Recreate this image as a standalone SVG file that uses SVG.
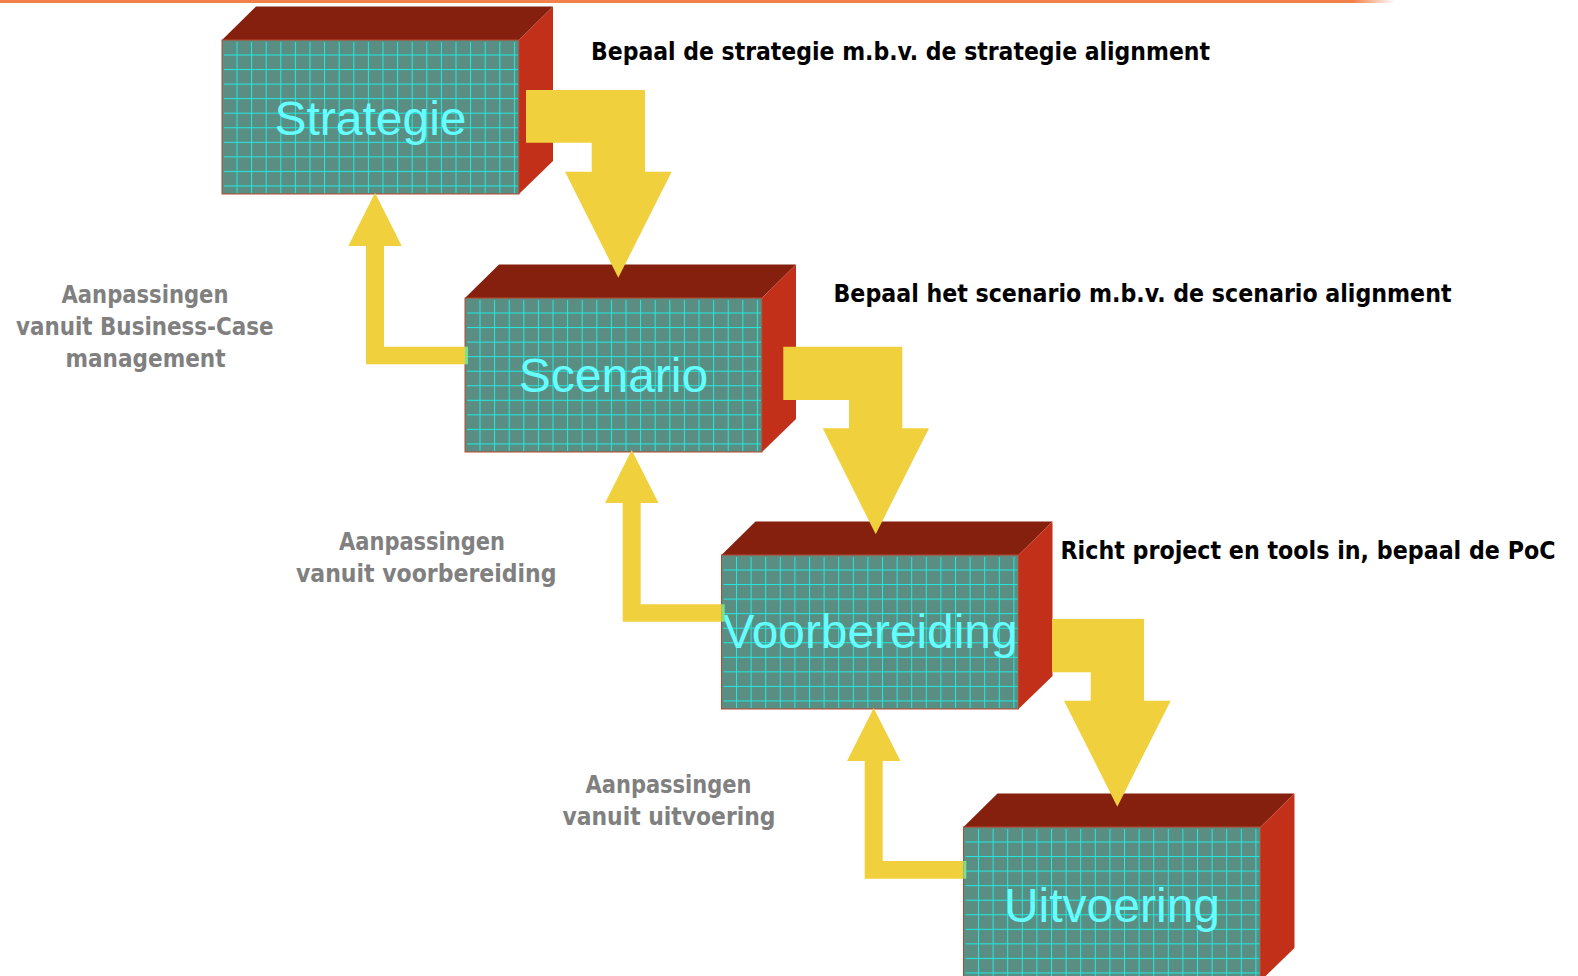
<svg xmlns="http://www.w3.org/2000/svg" width="1578" height="976" viewBox="0 0 1578 976">
<style>
.top{fill:#85200F}
.side{fill:#C2301A}
.front{fill:#5A8E83;stroke:#B8472E;stroke-width:1}
.grid{fill:url(#grid)}
.lbl{font-family:"Liberation Sans",Arial,sans-serif;font-size:48px;fill:#66FFFF;text-anchor:middle}
.note{font-family:"DejaVu Sans Condensed","DejaVu Sans",sans-serif;font-weight:bold;font-size:24px;fill:#000}
.gray{font-family:"DejaVu Sans Condensed","DejaVu Sans",sans-serif;font-weight:bold;font-size:24px;fill:#808080}
.arrow{fill:#F0D03C}
.pin{fill:#7EE08A}
</style>
<defs>
<linearGradient id="bar" x1="0" y1="0" x2="1" y2="0">
<stop offset="0" stop-color="#F2804A"/>
<stop offset="0.97" stop-color="#F2804A"/>
<stop offset="1" stop-color="#F2804A" stop-opacity="0"/>
</linearGradient>
<pattern id="grid" patternUnits="userSpaceOnUse" x="14.5" y="14.5" width="14.6" height="14.55">
<rect x="0" y="0" width="1" height="14.55" fill="#22E8E0"/>
<rect x="0" y="0" width="14.6" height="1" fill="#22E8E0"/>
</pattern>
</defs>
<rect x="0" y="0" width="1395" height="3" fill="url(#bar)"/>

<g id="node-strategie" transform="translate(222,40)">
<polygon class="top" points="0,0 34,-33.5 331,-33.5 297,0"/>
<polygon class="side" points="297,0 331,-33.5 331,121 297,154"/>
<rect class="front" x="0" y="0" width="297" height="154"/>
<rect class="grid" x="2" y="2" width="294" height="151"/>
<text class="lbl" x="148.5" y="95">Strategie</text>
</g>

<g id="node-scenario" transform="translate(465,298)">
<polygon class="top" points="0,0 34,-33.5 331,-33.5 297,0"/>
<polygon class="side" points="297,0 331,-33.5 331,121 297,154"/>
<rect class="front" x="0" y="0" width="297" height="154"/>
<rect class="grid" x="2" y="2" width="294" height="151"/>
<text class="lbl" x="148.5" y="94">Scenario</text>
</g>

<g id="node-voorbereiding" transform="translate(721.5,555)">
<polygon class="top" points="0,0 34,-33.5 331,-33.5 297,0"/>
<polygon class="side" points="297,0 331,-33.5 331,121 297,154"/>
<rect class="front" x="0" y="0" width="297" height="154"/>
<rect class="grid" x="2" y="2" width="294" height="151"/>
<text class="lbl" x="148.5" y="93" textLength="295" lengthAdjust="spacingAndGlyphs">Voorbereiding</text>
</g>

<g id="node-uitvoering" transform="translate(963.5,827)">
<polygon class="top" points="0,0 34,-33.5 331,-33.5 297,0"/>
<polygon class="side" points="297,0 331,-33.5 331,121 297,154"/>
<rect class="front" x="0" y="0" width="297" height="154"/>
<rect class="grid" x="2" y="2" width="294" height="151"/>
<text class="lbl" x="148.5" y="95">Uitvoering</text>
</g>

<g id="connectors">
<polygon class="arrow" points="526,90 645,90 645,171.7 671.7,171.7 618.3,277.7 565,171.7 591.7,171.7 591.7,142.7 526,142.7"/>
<polygon class="arrow" points="783.3,346.7 902.3,346.7 902.3,428.3 929,428.3 875.7,534.3 822.7,428.3 849,428.3 849,400 783.3,400"/>
<polygon class="arrow" points="1052,619 1144,619 1144,700.7 1170.7,700.7 1117.3,806.7 1064,700.7 1090.7,700.7 1090.7,672.3 1052,672.3"/>
<polygon class="arrow" points="375,192.7 401.7,246 384,246 384,346.7 465,346.7 465,364.3 366,364.3 366,246 348.3,246"/>
<rect class="pin" x="465" y="346.7" width="3" height="17.6"/>
<polygon class="arrow" points="631.7,450 658.5,503 640.7,503 640.7,604.3 721.7,604.3 721.7,621.7 622.7,621.7 622.7,503 605,503"/>
<rect class="pin" x="721.7" y="604.3" width="3" height="17.4"/>
<polygon class="arrow" points="873.7,708 900.5,761 882.7,761 882.7,861 963.3,861 963.3,878.7 864.7,878.7 864.7,761 847,761"/>
<rect class="pin" x="963.3" y="861" width="3" height="17.7"/>
</g>

<g id="notes">
<text class="note" x="591" y="60" textLength="619" lengthAdjust="spacingAndGlyphs">Bepaal de strategie m.b.v. de strategie alignment</text>
<text class="note" x="833.5" y="302" textLength="618" lengthAdjust="spacingAndGlyphs">Bepaal het scenario m.b.v. de scenario alignment</text>
<text class="note" x="1060.5" y="559" textLength="495" lengthAdjust="spacingAndGlyphs">Richt project en tools in, bepaal de PoC</text>
</g>

<g id="labels">
<text class="gray" x="61.5" y="302.5" textLength="167" lengthAdjust="spacingAndGlyphs">Aanpassingen</text>
<text class="gray" x="16" y="334.5" textLength="257.5" lengthAdjust="spacingAndGlyphs">vanuit Business-Case</text>
<text class="gray" x="65.5" y="366.5" textLength="160" lengthAdjust="spacingAndGlyphs">management</text>
<text class="gray" x="339" y="549.5" textLength="166" lengthAdjust="spacingAndGlyphs">Aanpassingen</text>
<text class="gray" x="296" y="581.5" textLength="260.5" lengthAdjust="spacingAndGlyphs">vanuit voorbereiding</text>
<text class="gray" x="585.5" y="792.5" textLength="166" lengthAdjust="spacingAndGlyphs">Aanpassingen</text>
<text class="gray" x="562.5" y="824.5" textLength="213" lengthAdjust="spacingAndGlyphs">vanuit uitvoering</text>
</g>
</svg>
